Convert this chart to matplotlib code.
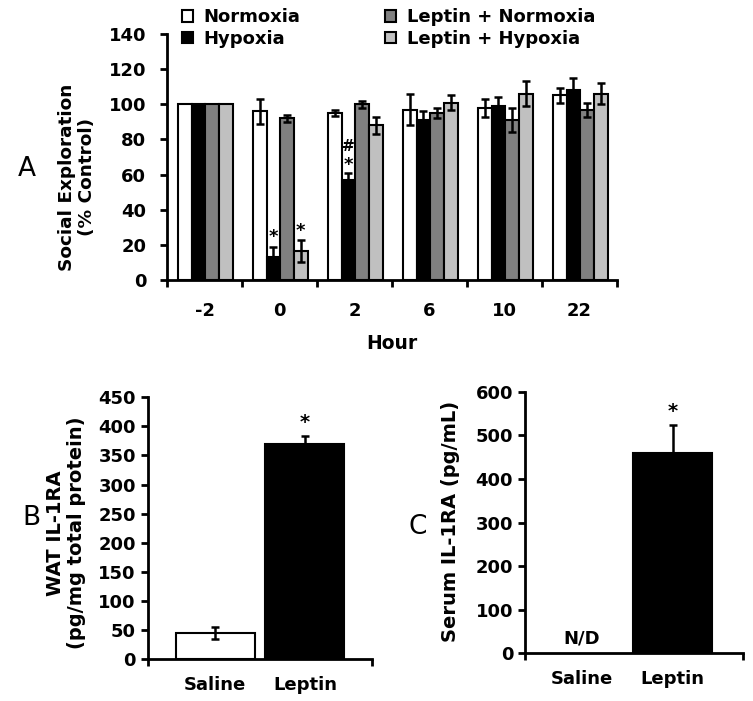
import numpy as np
import matplotlib
matplotlib.use("Agg")
import matplotlib.pyplot as plt

plt.rcParams['font.family'] = ['DejaVu Sans']
plt.rcParams['font.weight'] = 'bold'

# ---- Panel A data ----
hours = ["-2", "0", "2", "6", "10", "22"]
series_names = ["Normoxia", "Hypoxia", "Leptin + Normoxia", "Leptin + Hypoxia"]
normoxia = [100, 96, 95, 97, 98, 105]
normoxia_err = [0, 7, 1.5, 9, 5, 4]
hypoxia = [100, 13, 57, 91, 99, 108]
hypoxia_err = [0, 5.5, 4, 5, 5, 7]
lep_norm = [100, 92, 100, 95, 91, 97]
lep_norm_err = [0, 2, 2, 3, 7, 4]
lep_hyp = [100, 16.5, 88, 101, 106, 106]
lep_hyp_err = [0, 6, 5, 4, 7, 6]
series_colors = ["white", "black", "#808080", "#c0c0c0"]

# ---- Panel B data ----
b_cats = ["Saline", "Leptin"]
b_vals = [45, 370]
b_err = [10, 13]
b_colors = ["white", "black"]

# ---- Panel C data ----
c_cats = ["Saline", "Leptin"]
c_vals = [0, 460]
c_err = [0, 64]

W, H = 753, 701
fig = plt.figure(figsize=(W / 100, H / 100), dpi=100)

def fx(px):
    return px / W

def fy(py):
    return 1 - py / H

def style(ax, lw=2):
    for s in ["top", "right"]:
        ax.spines[s].set_visible(False)
    for s in ["left", "bottom"]:
        ax.spines[s].set_linewidth(lw)
        ax.spines[s].set_color("black")
    ax.tick_params(width=lw, length=5, direction="out")

# ---------- Panel A ----------
axA = fig.add_axes([0.2218, 0.6006, 0.5976, 0.3509])
x = np.arange(len(hours))
bw = 0.183
vals_all = [normoxia, hypoxia, lep_norm, lep_hyp]
errs_all = [normoxia_err, hypoxia_err, lep_norm_err, lep_hyp_err]
for i, (v, e, c, n) in enumerate(zip(vals_all, errs_all, series_colors, series_names)):
    pos = x + (i - 1.5) * bw + 0.01
    axA.bar(pos, v, width=bw, color=c, edgecolor="black", linewidth=1.5, label=n, zorder=2)
    ev = np.array(e, dtype=float)
    mask = ev > 0
    axA.errorbar(pos[mask], np.array(v)[mask], yerr=ev[mask], fmt="none",
                 ecolor="black", elinewidth=1.8, capsize=3, capthick=1.8, zorder=3)
axA.set_xlim(-0.5, 5.5)
axA.set_ylim(0, 140)
axA.set_yticks(np.arange(0, 141, 20))
axA.set_xticks(np.arange(-0.5, 6, 1))
axA.set_xticklabels([])
axA.set_xticks(x, minor=True)
axA.set_xticklabels(hours, minor=True)
axA.tick_params(axis="x", which="minor", length=0, pad=16)
axA.tick_params(axis="y", pad=10)
style(axA)
for lab in axA.get_xticklabels(minor=True) + axA.get_yticklabels():
    lab.set_fontsize(13)
    lab.set_fontweight("bold")
axA.set_xlabel("Hour", fontsize=13.5, fontweight="bold", labelpad=10)
fig.text(fx(77), fy(177), "Social Exploration\n(% Control)", rotation=90, ha="center",
         va="center", multialignment="center", fontsize=13.3, fontweight="bold", linespacing=1.1)

# significance marks
axA.text(x[1] + (1 - 1.5) * bw + 0.01, 19.5, "*", ha="center", va="bottom", fontsize=13, fontweight="bold")
axA.text(x[1] + (3 - 1.5) * bw + 0.01, 22.5, "*", ha="center", va="bottom", fontsize=13, fontweight="bold")
axA.text(x[2] + (1 - 1.5) * bw + 0.01, 60.5, "*", ha="center", va="bottom", fontsize=13, fontweight="bold")
axA.text(x[2] + (1 - 1.5) * bw + 0.01, 71.5, "#", ha="center", va="bottom", fontsize=11, fontweight="bold")

leg = axA.legend(ncol=2, loc="upper left", bbox_to_anchor=(0.033, 1.105), frameon=False,
                 fontsize=13, handlelength=0.6, handleheight=0.6, handletextpad=0.6,
                 columnspacing=4.7, labelspacing=0.2, borderaxespad=0, borderpad=0)
for t in leg.get_texts():
    t.set_fontweight("bold")
fig.text(fx(18), fy(169), "A", fontsize=19, fontweight="normal", ha="left", va="center")

# ---------- Panel B ----------
axB = fig.add_axes([0.1961, 0.0595, 0.2975, 0.3738])
xb = np.arange(len(b_cats))
axB.bar(xb, b_vals, width=0.88, color=b_colors, edgecolor="black", linewidth=1.5, zorder=2)
axB.errorbar(xb, b_vals, yerr=b_err, fmt="none", ecolor="black", elinewidth=1.8,
             capsize=3, capthick=1.8, zorder=3)
axB.set_xlim(-0.755, 1.745)
axB.set_ylim(0, 450)
axB.set_yticks(np.arange(0, 451, 50))
axB.set_xticks([-0.755, 1.745])
axB.set_xticklabels([])
axB.set_xticks(xb, minor=True)
axB.set_xticklabels(b_cats, minor=True)
axB.tick_params(axis="x", which="minor", length=0, pad=12)
style(axB)
for lab in axB.get_xticklabels(minor=True) + axB.get_yticklabels():
    lab.set_fontsize(13)
    lab.set_fontweight("bold")
fig.text(fx(66), fy(533), "WAT IL-1RA\n(pg/mg total protein)", rotation=90, ha="center",
         va="center", multialignment="center", fontsize=14, fontweight="bold", linespacing=1.1)
axB.text(xb[1], b_vals[1] + b_err[1] + 8, "*", ha="center", va="bottom", fontsize=14, fontweight="bold")
fig.text(fx(22), fy(518), "B", fontsize=19, fontweight="normal", ha="left", va="center")

# ---------- Panel C ----------
axC = fig.add_axes([0.6972, 0.0680, 0.2891, 0.3732])
xc = np.arange(len(c_cats))
axC.bar(xc[1], c_vals[1], width=0.87, color="black", edgecolor="black", linewidth=1.5, zorder=2)
axC.errorbar([xc[1]], [c_vals[1]], yerr=[[0], [c_err[1]]], fmt="none", ecolor="black",
             elinewidth=1.8, capsize=3, capthick=1.8, zorder=3)
axC.set_xlim(-0.63, 1.77)
axC.set_ylim(0, 600)
axC.set_yticks(np.arange(0, 601, 100))
axC.set_xticks([-0.63, 1.77])
axC.set_xticklabels([])
axC.set_xticks(xc, minor=True)
axC.set_xticklabels(c_cats, minor=True)
axC.tick_params(axis="x", which="minor", length=0, pad=12)
style(axC)
for lab in axC.get_xticklabels(minor=True) + axC.get_yticklabels():
    lab.set_fontsize(13)
    lab.set_fontweight("bold")
fig.text(fx(450), fy(521), "Serum IL-1RA (pg/mL)", rotation=90, ha="center",
         va="center", fontsize=14, fontweight="bold")
axC.text(xc[0], 14, "N/D", ha="center", va="bottom", fontsize=13, fontweight="bold")
axC.text(xc[1], c_vals[1] + c_err[1] + 8, "*", ha="center", va="bottom", fontsize=14, fontweight="bold")
fig.text(fx(408), fy(527), "C", fontsize=19, fontweight="normal", ha="left", va="center")

fig.savefig("out.png", dpi=100)
